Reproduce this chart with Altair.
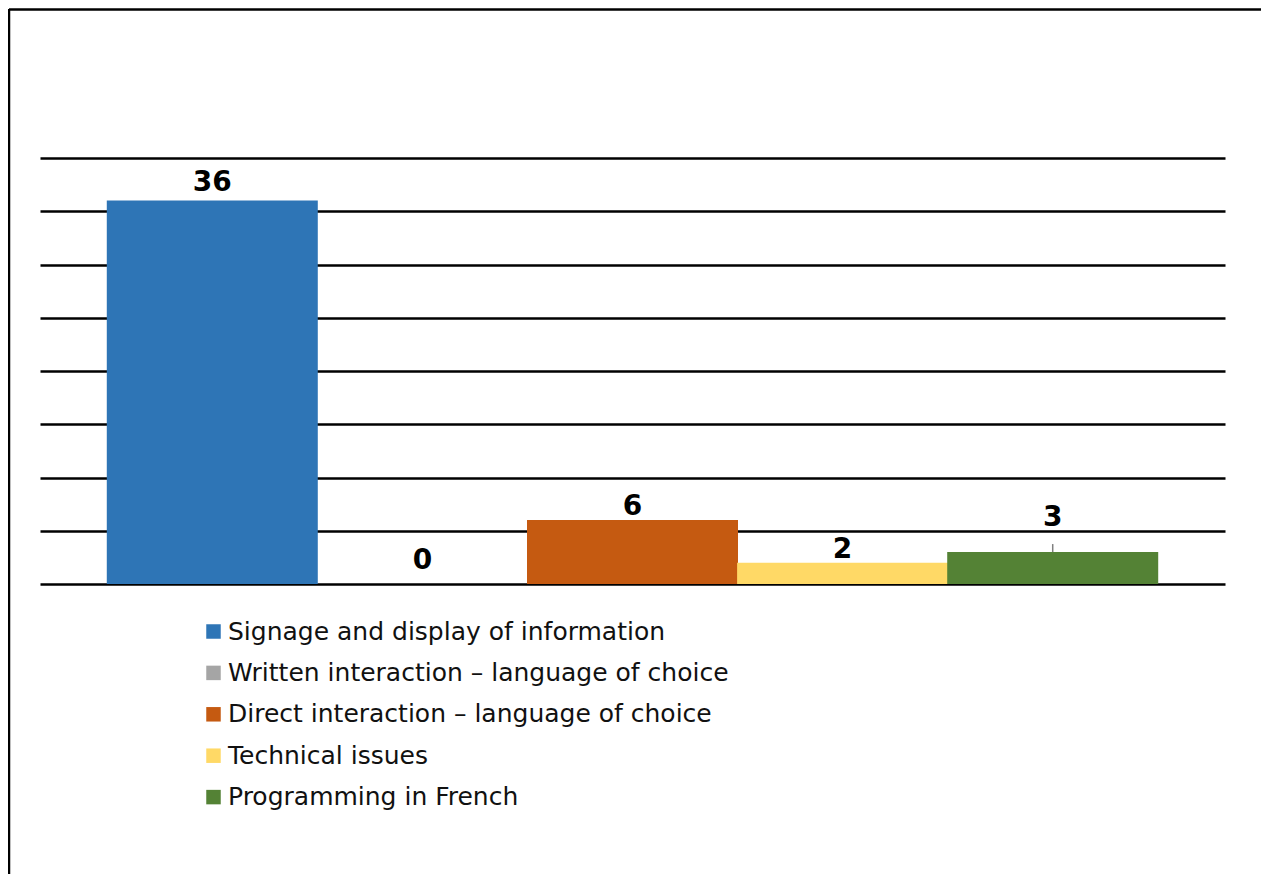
import altair as alt
import pandas as pd

categories = [
    "Signage and display of information",
    "Written interaction \u2013 language  of choice",
    "Direct interaction \u2013 language  of choice",
    "Technical issues",
    "Programming in French",
]
values = [36, 0, 6, 2, 3]
colors = ["#2E75B6", "#A5A5A5", "#C55A11", "#FFD966", "#548235"]

df = pd.DataFrame({"category": categories, "value": values})

FONT = "DejaVu Sans"
W, H = 1185, 426

xenc = alt.X("category:N", sort=categories,
             scale=alt.Scale(domain=categories, paddingInner=0, paddingOuter=0.32),
             axis=None)
yscale = alt.Scale(domain=[0, 40], nice=False)

base = alt.Chart(df)

bars = base.mark_bar(size=211).encode(
    x=xenc,
    y=alt.Y("value:Q", scale=yscale,
            axis=alt.Axis(values=list(range(0, 41, 5)), grid=True, gridColor="black",
                          gridWidth=2.4, gridOpacity=1, labels=False, ticks=False,
                          domain=False, title=None)),
    color=alt.Color("category:N", sort=categories,
                    scale=alt.Scale(domain=categories, range=colors),
                    legend=alt.Legend(title=None, orient="none", legendX=161, legendY=461,
                                      symbolType="square", symbolSize=210,
                                      symbolStrokeWidth=0, labelFont=FONT,
                                      labelFontSize=25, labelColor="#111",
                                      labelOffset=2, rowPadding=15.4, padding=0,
                                      labelLimit=0)),
)

dys = {0: -10, 1: -15, 2: -5, 3: -5, 4: -26}
label_layers = []
for i, c in enumerate(categories):
    label_layers.append(
        base.transform_filter(alt.datum.category == c).mark_text(
            font=FONT, fontSize=28, fontWeight="bold", color="black",
            baseline="alphabetic", dy=dys[i]
        ).encode(x=xenc, y=alt.Y("value:Q", scale=yscale), text="value:Q")
    )

leader = base.transform_filter(alt.datum.category == categories[4]).transform_calculate(
    top="datum.value + 0.75"
).mark_rule(color="#7F7F7F", strokeWidth=1.5).encode(
    x=xenc, y=alt.Y("value:Q", scale=yscale), y2="top:Q"
)

frame_data = alt.Data(values=[{"k": 1}])
frame_v = alt.Chart(frame_data).mark_rule(color="black", strokeWidth=2.5).encode(
    x=alt.value(-31), y=alt.value(-149), y2=alt.value(800))
frame_h = alt.Chart(frame_data).mark_rule(color="black", strokeWidth=2.5).encode(
    y=alt.value(-148.5), x=alt.value(-31), x2=alt.value(1300))

chart = alt.layer(bars, *label_layers, leader, frame_v, frame_h).properties(
    width=W, height=H,
    padding={"left": 32, "top": 150, "right": 36, "bottom": 290},
    autosize=alt.AutoSizeParams(type="none"),
).configure(background="white").configure_view(stroke=None, strokeWidth=0)

chart.save("out.html", embed_options={"renderer": "svg", "actions": False})
